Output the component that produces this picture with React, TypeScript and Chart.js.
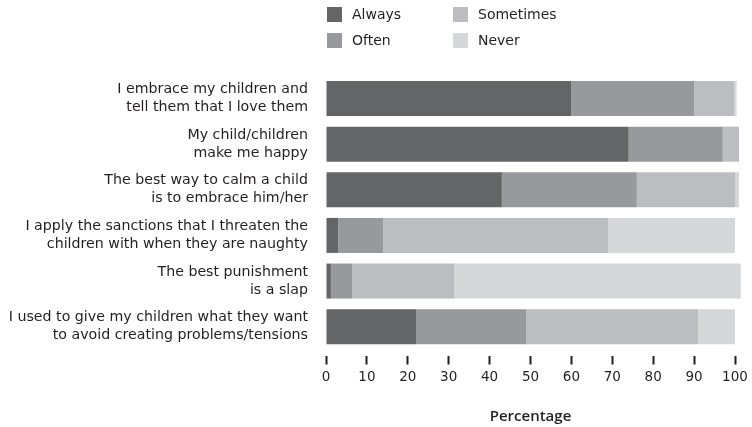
import React, { useEffect, useRef } from "react";
import { Chart, registerables } from "chart.js";

Chart.register(...registerables);

const categories: string[][] = [
  ["I embrace my children and", "tell them that I love them"],
  ["My child/children", "make me happy"],
  ["The best way to calm a child", "is to embrace him/her"],
  ["I apply the sanctions that I threaten the", "children with when they are naughty"],
  ["The best punishment", "is a slap"],
  ["I used to give my children what they want", "to avoid creating problems/tensions"],
];

const always = [60, 74, 43, 3, 1.2, 22];
const often = [30, 23, 33, 11, 5.2, 27];
const sometimes = [9.8, 4, 24, 55, 25, 42];
const never = [0.6, 0, 1, 31, 70, 9];

const seriesNames = ["Always", "Often", "Sometimes", "Never"];
const seriesColors = ["#646567", "#98999c", "#bcbdc0", "#d6d7d9"];

const xTicks = [0, 10, 20, 30, 40, 50, 60, 70, 80, 90, 100];
const xTitle = "Percentage";

const FONT = "'DejaVu Sans', sans-serif";
const TITLE_FONT = "'Open Sans', sans-serif";
const TEXT = "#231f20";

export default function App() {
  const ref = useRef<HTMLCanvasElement | null>(null);

  useEffect(() => {
    if (!ref.current) return;
    const values = [always, often, sometimes, never];
    const chart = new Chart(ref.current, {
      type: "bar",
      data: {
        labels: categories,
        datasets: seriesNames.map((name, i) => ({
          label: name,
          data: values[i],
          backgroundColor: seriesColors[i],
          borderWidth: 0,
          barPercentage: 0.767,
          categoryPercentage: 1,
          clip: false as any,
        })),
      },
      options: {
        indexAxis: "y",
        responsive: false,
        animation: false,
        layout: { padding: { top: 75.7, right: 17, left: 0, bottom: 0 } },
        plugins: {
          legend: { display: false },
          tooltip: { enabled: false },
        },
        scales: {
          x: {
            stacked: true,
            min: 0,
            max: 100,
            afterBuildTicks: (scale: any) => {
              scale.ticks = xTicks.map((v) => ({ value: v }));
            },
            afterFit: (scale: any) => {
              scale.height = 77.5;
              scale.paddingLeft = 0;
              scale.paddingRight = 0;
            },
            border: { display: false },
            grid: {
              drawOnChartArea: false,
              drawTicks: true,
              tickLength: 15,
              tickWidth: 2,
              tickColor: TEXT,
              tickBorderDash: [0, 6, 9],
            },
            ticks: {
              color: TEXT,
              padding: 5,
              font: { family: FONT, size: 13.5 },
              maxRotation: 0,
            },
            title: {
              display: true,
              text: xTitle,
              color: TEXT,
              font: { family: TITLE_FONT, size: 15, weight: "600" as any },
              padding: { top: 0, bottom: 1 },
            },
          },
          y: {
            stacked: true,
            afterFit: (scale: any) => {
              scale.width = 326;
            },
            border: { display: false },
            grid: { display: false, drawTicks: false },
            ticks: {
              color: TEXT,
              padding: 18,
              font: { family: FONT, size: 14.2, lineHeight: 18 / 14.2 },
            },
          },
        },
      },
    });
    return () => chart.destroy();
  }, []);

  const legendItem = (i: number, left: number, top: number) => (
    <div
      key={i}
      style={{
        position: "absolute",
        left,
        top,
        display: "flex",
        alignItems: "center",
        height: 15,
      }}
    >
      <div style={{ width: 15, height: 15, background: seriesColors[i] }} />
      <span
        style={{
          marginLeft: 10,
          fontFamily: FONT,
          fontSize: 14,
          color: TEXT,
          lineHeight: "15px",
          whiteSpace: "nowrap",
        }}
      >
        {seriesNames[i]}
      </span>
    </div>
  );

  return (
    <div
      style={{
        position: "fixed",
        left: 0,
        top: 0,
        width: 752,
        height: 427,
        background: "#fff",
      }}
    >
      <canvas ref={ref} width={752} height={427} style={{ display: "block" }} />
      {legendItem(0, 327, 7)}
      {legendItem(1, 327, 33)}
      {legendItem(2, 453, 7)}
      {legendItem(3, 453, 33)}
    </div>
  );
}
